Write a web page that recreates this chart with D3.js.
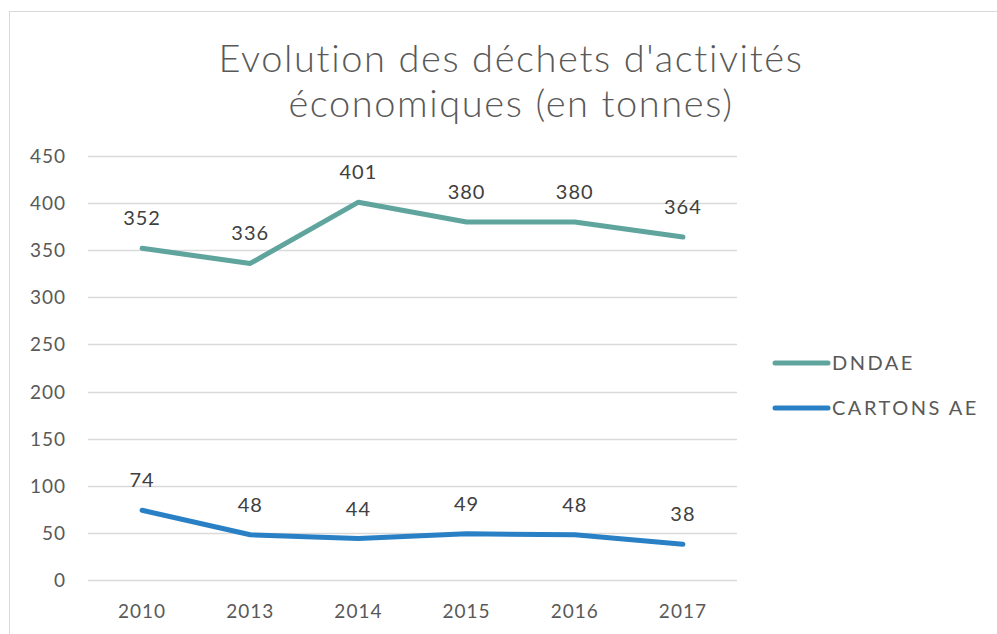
<!DOCTYPE html>
<html>
<head>
<meta charset="utf-8">
<script src="https://cdn.jsdelivr.net/npm/d3@7"></script>
<style>
  body { margin: 0; background: #fff; }
  text { font-family: Lato, "Open Sans", sans-serif; }
</style>
</head>
<body>
<div id="chart"></div>
<script>
const years = ["2010", "2013", "2014", "2015", "2016", "2017"];
const dndae = [352, 336, 401, 380, 380, 364];
const cartons = [74, 48, 44, 49, 48, 38];
const seriesNames = ["DNDAE", "CARTONS AE"];
const seriesColors = ["#5fa59d", "#2a80c5"];
const yTicks = [0, 50, 100, 150, 200, 250, 300, 350, 400, 450];

let width = 997;
let height = 634;

let svg = d3.select("#chart")
  .append("svg")
  .attr("width", width)
  .attr("height", height);

// chart frame
svg.append("rect")
  .attr("x", 9.5).attr("y", 11.5)
  .attr("width", 1000).attr("height", 700)
  .attr("fill", "#fff")
  .attr("stroke", "#d9d9d9");

let x = d3.scaleBand().domain(years).range([88, 737]);
let y = d3.scaleLinear().domain([0, 450]).range([580, 156]);

// title
svg.append("text")
  .attr("x", 511).attr("text-anchor", "middle")
  .attr("fill", "#595959")
  .attr("font-size", "38px")
  .attr("font-weight", 300)
  .attr("letter-spacing", "1.6px")
  .selectAll("tspan")
  .data(["Evolution des déchets d'activités", "économiques (en tonnes)"])
  .join("tspan")
  .attr("x", 511)
  .attr("y", (d, i) => 72 + i * 45)
  .text(d => d);

// gridlines
svg.append("g")
  .selectAll("line")
  .data(yTicks)
  .join("line")
  .attr("x1", 88).attr("x2", 737)
  .attr("y1", d => Math.round(y(d)) + 0.5)
  .attr("y2", d => Math.round(y(d)) + 0.5)
  .attr("stroke", "#d9d9d9")
  .attr("stroke-width", 1.5);

// y axis labels
svg.append("g")
  .selectAll("text")
  .data(yTicks)
  .join("text")
  .attr("x", 66)
  .attr("y", d => y(d) + 7)
  .attr("text-anchor", "end")
  .attr("font-size", "19px")
  .attr("letter-spacing", "1px")
  .attr("fill", "#595959")
  .text(d => d);

// x axis labels
svg.append("g")
  .selectAll("text")
  .data(years)
  .join("text")
  .attr("x", d => x(d) + x.bandwidth() / 2)
  .attr("y", 618)
  .attr("text-anchor", "middle")
  .attr("font-size", "19px")
  .attr("letter-spacing", "1px")
  .attr("fill", "#595959")
  .text(d => d);

let line = d3.line()
  .x((d, i) => x(years[i]) + x.bandwidth() / 2)
  .y(d => y(d));

[dndae, cartons].forEach(function (vals, k) {
  svg.append("path")
    .datum(vals)
    .attr("d", line)
    .attr("fill", "none")
    .attr("stroke", seriesColors[k])
    .attr("stroke-width", 5)
    .attr("stroke-linecap", "round")
    .attr("stroke-linejoin", "round");

  svg.append("g")
    .selectAll("text")
    .data(vals)
    .join("text")
    .attr("x", (d, i) => x(years[i]) + x.bandwidth() / 2)
    .attr("y", d => y(d) - 23)
    .attr("text-anchor", "middle")
    .attr("font-size", "20px")
    .attr("letter-spacing", "1px")
    .attr("fill", "#404040")
    .text(d => d);
});

// legend
let legend = svg.append("g")
  .selectAll("g")
  .data(seriesNames)
  .join("g")
  .attr("transform", (d, i) => `translate(775, ${363 + i * 45})`);

legend.append("line")
  .attr("x1", 0).attr("x2", 53)
  .attr("stroke", (d, i) => seriesColors[i])
  .attr("stroke-width", 5)
  .attr("stroke-linecap", "round");

legend.append("text")
  .attr("x", 57).attr("y", 7)
  .attr("font-size", "20px")
  .attr("letter-spacing", "2.5px")
  .attr("fill", "#595959")
  .text(d => d);
</script>
</body>
</html>
